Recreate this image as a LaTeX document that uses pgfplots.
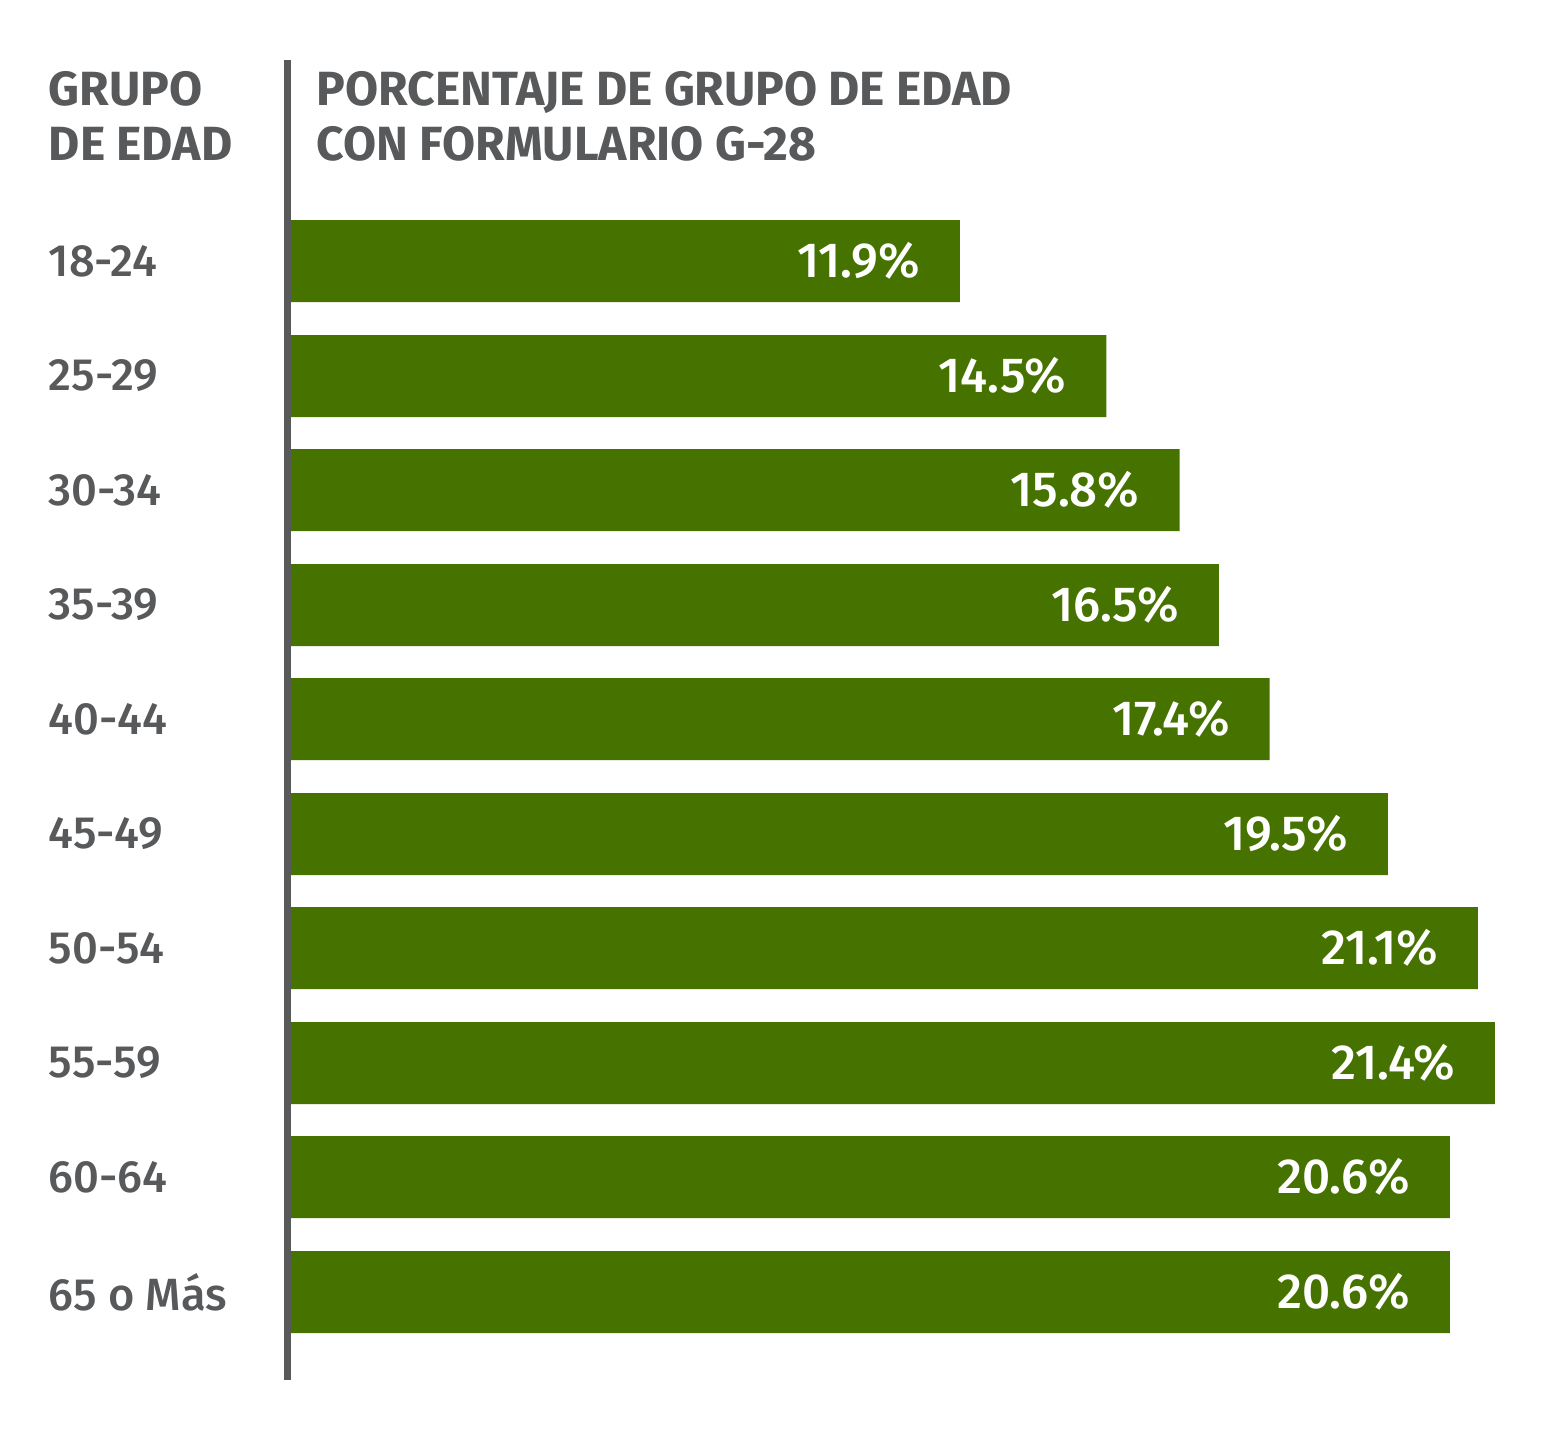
\documentclass[border=0pt]{standalone}
\usepackage{fontspec}
\setmainfont{Fira Sans}
\newfontfamily\hdr{Fira Sans}[UprightFont=* Bold]
\newfontfamily\lbl{Fira Sans}[UprightFont=* Medium]
\usepackage{pgfplots}
\pgfplotsset{compat=1.18}
\definecolor{bargreen}{HTML}{467300}
\definecolor{txtgray}{HTML}{58595B}
\begin{document}
\begin{tikzpicture}
\begin{axis}[
  scale only axis, width=390pt, height=360pt,
  xmin=-5.151, xmax=22.558, ymin=0, ymax=1440, y dir=reverse,
  axis lines=none, clip=false,
  xbar, bar width=82, bar shift=0pt,
  point meta=x,
  /pgf/number format/assume math mode=true,
  nodes near coords={\pgfmathprintnumber[fixed,precision=1,fixed zerofill,assume math mode=true]{\pgfplotspointmeta}\%},
  every node near coord/.append style={anchor=east, xshift=-6.5pt, text=white, font=\lbl\fontsize{12.3}{14}\selectfont},
]
\path (rel axis cs:0,0) rectangle (rel axis cs:1,1);
\addplot[fill=bargreen, draw=none] coordinates {
(11.9,261) (14.5,376) (15.8,490) (16.5,605) (17.4,719)
(19.5,834) (21.1,948) (21.4,1063) (20.6,1177) (20.6,1292)};
\draw[txtgray, line width=1.75pt] (axis cs:-0.05,60) -- (axis cs:-0.05,1380);
\begin{scope}[every node/.style={anchor=base west, inner sep=0pt, text=txtgray, font=\hdr\fontsize{12}{14}\selectfont}]
\node at (axis cs:-4.298,105) {GRUPO};
\node at (axis cs:-4.298,160) {DE EDAD};
\node at (axis cs:0.462,105) {PORCENTAJE DE GRUPO DE EDAD};
\node at (axis cs:0.462,160) {CON FORMULARIO G-28};
\end{scope}
\begin{scope}[every node/.style={anchor=west, inner sep=0pt, text=txtgray, font=\lbl\fontsize{11.3}{14}\selectfont}]
\node at (axis cs:-4.298,261) {18-24};
\node at (axis cs:-4.298,376) {25-29};
\node at (axis cs:-4.298,490) {30-34};
\node at (axis cs:-4.298,605) {35-39};
\node at (axis cs:-4.298,719) {40-44};
\node at (axis cs:-4.298,834) {45-49};
\node at (axis cs:-4.298,948) {50-54};
\node at (axis cs:-4.298,1063) {55-59};
\node at (axis cs:-4.298,1177) {60-64};
\node at (axis cs:-4.298,1292) {65 o Más};
\end{scope}
\end{axis}
\end{tikzpicture}
\end{document}
